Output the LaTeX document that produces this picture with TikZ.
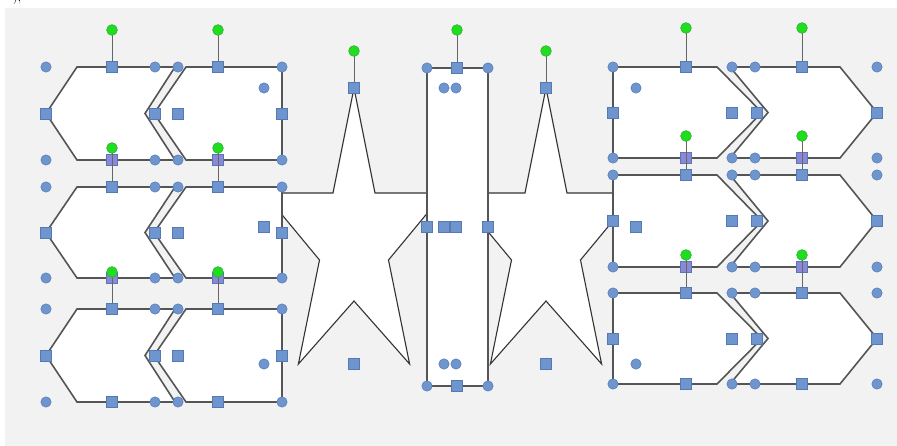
\documentclass[tikz,border=0pt]{standalone}
\definecolor{bg}{HTML}{F2F2F2}
\definecolor{hfill}{HTML}{6F95CF}
\definecolor{hdraw}{HTML}{5479B3}
\definecolor{gfill}{HTML}{1FDD1F}
\definecolor{gdraw}{HTML}{2FA52F}
\definecolor{pfill}{HTML}{8C88D8}
\definecolor{edge}{HTML}{555555}
\tikzset{
  shp/.style={draw=edge, line width=1.6pt, line join=miter},
  starshp/.style={draw=black!80, line width=1.1pt, line join=miter, fill=white},
  hc/.style={fill=hfill, draw=hdraw, line width=0.5pt},
  pc/.style={fill=pfill, draw=hdraw, line width=0.5pt},
  gc/.style={fill=gfill, draw=gdraw, line width=0.5pt},
  stemline/.style={draw=black!60, line width=1pt}
}
\newcommand\hC[2]{\filldraw[hc] (#1,#2) circle[radius=5.2];}
\newcommand\hS[2]{\filldraw[hc] ({#1-5.5},{#2-5.5}) rectangle ++(11,11);}
\newcommand\hP[2]{\filldraw[pc] ({#1-5.5},{#2-5.5}) rectangle ++(11,11);}
\newcommand\hG[3]{\draw[stemline] (#1,#2) -- (#1,#3);\filldraw[gc] (#1,#2) circle[radius=5.4];}
\newcommand\drawstar[1]{%
  \filldraw[starshp] (#1,88) -- ({#1+21},193) -- ({#1+90},193) -- ({#1+34.5},260)
    -- ({#1+55.6},364) -- (#1,301) -- ({#1-55.6},364) -- ({#1-34.5},260)
    -- ({#1-90},193) -- ({#1-21},193) -- cycle;}
\begin{document}
\begin{tikzpicture}[x=1pt,y=-1pt]
\useasboundingbox (0,0) rectangle (897,446);
\fill[white] (0,0) rectangle (897,446);
\fill[bg] (5,8) rectangle (897,446);
\node[anchor=base west, inner sep=0pt, font=\large] (frag) at (13,1.5) {),};

% stars
\drawstar{354}
\drawstar{546}
% tall rectangle
\filldraw[shp, fill=white] (427,68) rectangle (488,386);

% left group fills
\foreach \T/\M/\B in {67/113.5/160, 187/232.5/278, 309/355.5/402} {
  \fill[white] (46,\M) -- (77,\T) -- (175,\T) -- (145,\M) -- (175,\B) -- (77,\B) -- cycle;
  \fill[white] (154,\M) -- (186,\T) -- (282,\T) -- (282,\B) -- (186,\B) -- cycle;
}
% right group fills
\foreach \T/\M/\B in {67/112.5/158, 175/221/267, 293/338.5/384} {
  \fill[white] (613,\T) -- (717,\T) -- (762,\M) -- (717,\B) -- (613,\B) -- cycle;
  \fill[white] (730,\T) -- (840,\T) -- (877,\M) -- (840,\B) -- (730,\B) -- (768,\M) -- cycle;
}
% outlines
\foreach \T/\M/\B in {67/113.5/160, 187/232.5/278, 309/355.5/402} {
  \draw[shp] (46,\M) -- (77,\T) -- (175,\T) -- (145,\M) -- (175,\B) -- (77,\B) -- cycle;
  \draw[shp] (154,\M) -- (186,\T) -- (282,\T) -- (282,\B) -- (186,\B) -- cycle;
}
\foreach \T/\M/\B in {67/112.5/158, 175/221/267, 293/338.5/384} {
  \draw[shp] (613,\T) -- (717,\T) -- (762,\M) -- (717,\B) -- (613,\B) -- cycle;
  \draw[shp] (730,\T) -- (840,\T) -- (877,\M) -- (840,\B) -- (730,\B) -- (768,\M) -- cycle;
}

% handles of left group
\foreach \T/\M/\B in {67/113.5/160, 187/232.5/278, 309/355.5/402} {
  \hC{46}{\T}\hC{46}{\B}\hC{155}{\T}\hC{155}{\B}\hC{178}{\T}\hC{178}{\B}\hC{282}{\T}\hC{282}{\B}
  \hS{112}{\T}\hS{112}{\B}\hS{218}{\T}\hS{218}{\B}
  \hS{46}{\M}\hS{155}{\M}\hS{178}{\M}\hS{282}{\M}
}
% handles of right group
\foreach \T/\M/\B in {67/112.5/158, 175/221/267, 293/338.5/384} {
  \hC{613}{\T}\hC{613}{\B}\hC{732}{\T}\hC{732}{\B}\hC{755}{\T}\hC{755}{\B}\hC{877}{\T}\hC{877}{\B}
  \hS{686}{\T}\hS{686}{\B}\hS{802}{\T}\hS{802}{\B}
  \hS{613}{\M}\hS{732}{\M}\hS{757}{\M}\hS{877}{\M}
}
% star handles
\foreach \c in {354,546} {
  \hC{\c-90}{88}\hC{\c+90}{88}\hC{\c-90}{364}\hC{\c+90}{364}
  \hS{\c}{88}\hS{\c}{364}\hS{\c-90}{227}\hS{\c+90}{227}
}
% rectangle handles
\hC{427}{68}\hC{488}{68}\hC{427}{386}\hC{488}{386}
\hS{457}{68}\hS{457}{386}\hS{427}{227}\hS{488}{227}

% overlapped squares (purple)
\hP{112}{160}\hP{218}{160}\hP{112}{278}\hP{218}{278}
\hP{686}{158}\hP{802}{158}\hP{686}{267}\hP{802}{267}

% rotation handles
\foreach \G/\T in {30/67, 148/187, 272/309} { \hG{112}{\G}{\T}\hG{218}{\G}{\T} }
\foreach \G/\T in {28/67, 136/175, 255/293} { \hG{686}{\G}{\T}\hG{802}{\G}{\T} }
\hG{354}{51}{88}
\hG{546}{51}{88}
\hG{457}{30}{68}
% redraw top squares over stems
\foreach \T in {67,187,309} { \hS{112}{\T}\hS{218}{\T} }
\foreach \T in {67,175,293} { \hS{686}{\T}\hS{802}{\T} }
\hS{354}{88}\hS{546}{88}\hS{457}{68}
\end{tikzpicture}
\end{document}
